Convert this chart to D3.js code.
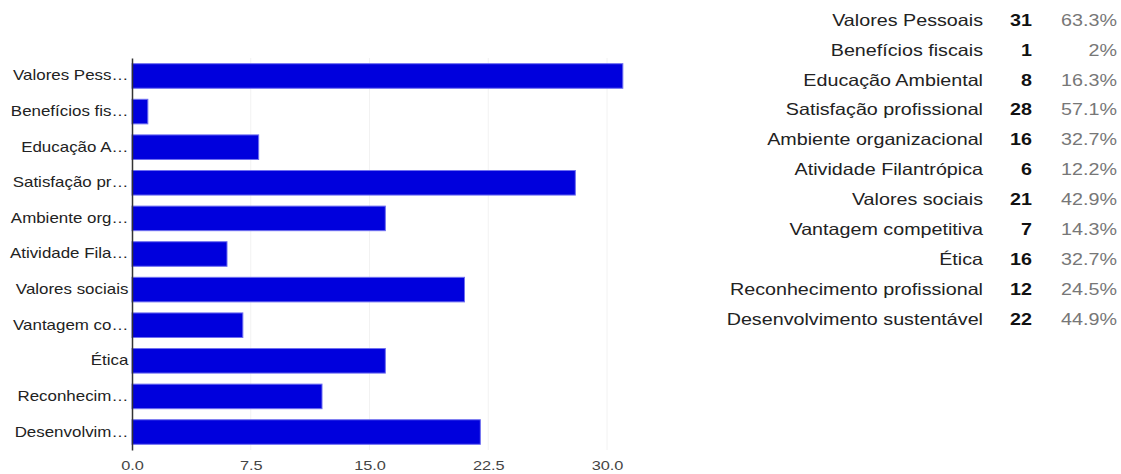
<!DOCTYPE html>
<html>
<head>
<meta charset="utf-8">
<script src="https://cdn.jsdelivr.net/npm/d3@7"></script>
<style>
  body { margin: 0; background: #fff; font-family: "Liberation Sans", Arial, sans-serif; }
  .grid line { stroke: #f2f2f2; }
  .y.axis text { fill: #222; font-size: 14px; }
  .x.axis text { fill: #444; font-size: 13.5px; }
</style>
</head>
<body>
<script>
// data
var categorias = ["Valores Pessoais", "Benefícios fiscais", "Educação Ambiental", "Satisfação profissional",
  "Ambiente organizacional", "Atividade Filantrópica", "Valores sociais", "Vantagem competitiva",
  "Ética", "Reconhecimento profissional", "Desenvolvimento sustentável"];
var rotulosCurtos = ["Valores Pess…", "Benefícios fis…", "Educação A…", "Satisfação pr…",
  "Ambiente org…", "Atividade Fila…", "Valores sociais", "Vantagem co…",
  "Ética", "Reconhecim…", "Desenvolvim…"];
var contagens = [31, 1, 8, 28, 16, 6, 21, 7, 16, 12, 22];
var percentuais = ["63.3%", "2%", "16.3%", "57.1%", "32.7%", "12.2%", "42.9%", "14.3%", "32.7%", "24.5%", "44.9%"];
var ticks = [0, 7.5, 15, 22.5, 30];

var W = 1121, H = 474;
var margin = {top: 58, left: 132};
var plotW = 475, plotH = 392;
var esticar = 1.21; // the picture is a bit wider than tall

var svg = d3.select("body").append("svg")
    .attr("width", W)
    .attr("height", H);

var x = d3.scaleLinear().domain([0, 30]).range([0, plotW]);
var y = d3.scaleBand().domain(d3.range(categorias.length)).range([0, plotH]).paddingInner(0.31).paddingOuter(0.16);

var g = svg.append("g")
    .attr("transform", "translate(" + margin.left + "," + margin.top + ")");

// faint gridlines
g.append("g").attr("class", "grid")
  .selectAll("line")
  .data(ticks.slice(1))
  .enter().append("line")
    .attr("x1", d => x(d)).attr("x2", d => x(d))
    .attr("y1", 0).attr("y2", plotH);

g.selectAll(".bar")
    .data(contagens)
  .enter().append("rect")
    .attr("class", "bar")
    .attr("x", x(0))
    .attr("y", (d, i) => y(i))
    .attr("width", d => x(d))
    .attr("height", y.bandwidth())
    .attr("fill", "#0000dd")
    .attr("stroke", "#6f6ff0")
    .attr("stroke-width", 1);

// y axis
var yAxis = g.append("g")
    .attr("class", "y axis")
    .call(d3.axisLeft(y).tickSize(0).tickPadding(3).tickFormat(i => rotulosCurtos[i]));
yAxis.select(".domain").attr("stroke", "#333").attr("stroke-width", 1.5);
yAxis.selectAll("text")
    .attr("font-family", "Liberation Sans, Arial, sans-serif")
    .attr("transform", "scale(" + esticar + ",1)");

// x axis
var xAxis = g.append("g")
    .attr("class", "x axis")
    .attr("transform", "translate(0," + plotH + ")")
    .call(d3.axisBottom(x).tickValues(ticks).tickSize(0).tickPadding(10).tickFormat(d3.format(".1f")));
xAxis.select(".domain").remove();
xAxis.selectAll("text")
    .attr("font-family", "Liberation Sans, Arial, sans-serif")
    .attr("transform", "scale(" + esticar + ",1)");

// summary table
var rowY = d3.scalePoint().domain(d3.range(categorias.length)).range([20, 319]);

var tabela = svg.append("g")
    .attr("font-family", "Liberation Sans, Arial, sans-serif")
    .attr("font-size", 16.3);

function coluna(dados, xPos, cor, peso) {
  tabela.selectAll(null)
      .data(dados)
    .enter().append("text")
      .attr("transform", (d, i) => "translate(" + xPos + "," + rowY(i) + ") scale(" + esticar + ",1)")
      .attr("dy", "0.35em")
      .attr("text-anchor", "end")
      .attr("font-weight", peso)
      .attr("fill", cor)
      .text(d => d);
}

coluna(categorias, 983, "#222", "normal");
coluna(contagens, 1032, "#111", "bold");
coluna(percentuais, 1117, "#777", "normal");
</script>
</body>
</html>
